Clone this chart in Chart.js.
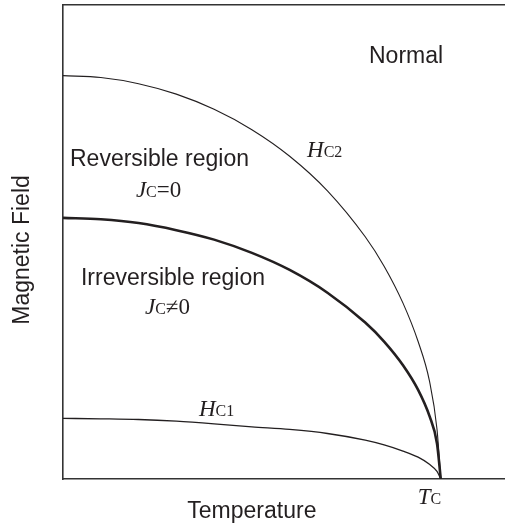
<!DOCTYPE html>
<html>
<head>
<meta charset="utf-8">
<script src="https://cdn.jsdelivr.net/npm/chart.js@4"></script>
<style>
  html, body { margin: 0; padding: 0; background: #fff; }
  #wrap { width: 505px; height: 528px; }
</style>
</head>
<body>
<div id="wrap"><canvas id="phaseChart" width="505" height="528"></canvas></div>
<script>
// reduced temperature T/Tc and field (arbitrary units, axis 0..100)
const tempT = [0, 0.1, 0.2, 0.3, 0.4, 0.5, 0.6, 0.7, 0.8, 0.85, 0.9, 0.94, 0.97, 0.99, 1];
const hc2H = [85.1, 84.7, 83.4, 81.2, 78.0, 73.7, 68.1, 60.8, 51.1, 44.9, 37.1, 29.0, 20.7, 10.5, 0];
const irrH = [55.1, 54.8, 54.0, 52.5, 50.5, 47.7, 44.1, 39.3, 33.0, 29.0, 24.0, 18.8, 13.3, 7.5, 0];
const hc1H = [12.8, 12.7, 12.55, 12.2, 11.65, 11.0, 10.45, 9.6, 8.2, 7.2, 5.9, 4.6, 3.1, 1.6, 0];

const xTitle = 'Temperature';
const yTitle = 'Magnetic Field';

const INK = '#231f20';
const SANS = '"Liberation Sans", Arial, Helvetica, sans-serif';
const SERIF = '"Liberation Serif", "Times New Roman", serif';

function toPoints(xs, ys) {
    return xs.map((x, i) => ({ x: x, y: ys[i] }));
}

// label runs: [text, style] where style is 'sans', 'it', 'sub', 'rm'
const fonts = {
    sans: '23px ' + SANS,
    it: 'italic 23px ' + SERIF,
    sub: '16px ' + SERIF,
    rm: '23px ' + SERIF
};

const notes = [
    { t: 0.810, h: 87.8, runs: [['Normal', 'sans']] },
    { t: 0.0185, h: 66.0, runs: [['Reversible region', 'sans']] },
    { t: 0.193, h: 59.5, runs: [['J', 'it'], ['C', 'sub'], ['=0', 'rm']] },
    { t: 0.0476, h: 40.9, runs: [['Irreversible region', 'sans']] },
    { t: 0.217, h: 34.8, runs: [['J', 'it'], ['C', 'sub'], ['\u2260', 'rm'], ['0', 'rm']] },
    { t: 0.646, h: 67.9, runs: [['H', 'it'], ['C2', 'sub']] },
    { t: 0.360, h: 13.3, runs: [['H', 'it'], ['C1', 'sub']] },
    { t: 0.939, h: -5.3, runs: [['T', 'it'], ['C', 'sub']] }
];

function drawRuns(ctx, x, y, runs) {
    let cx = x;
    runs.forEach(([text, style]) => {
        ctx.font = fonts[style];
        ctx.fillText(text, cx, y);
        cx += ctx.measureText(text).width;
    });
}

const textPlugin = {
    id: 'phaseLabels',
    afterDraw: (chart) => {
        const ctx = chart.ctx;
        const xs = chart.scales.x;
        const ys = chart.scales.y;
        ctx.save();
        ctx.fillStyle = INK;
        ctx.textAlign = 'left';
        ctx.textBaseline = 'alphabetic';
        notes.forEach(n => {
            drawRuns(ctx, xs.getPixelForValue(n.t), ys.getPixelForValue(n.h), n.runs);
        });

        // axis titles
        ctx.font = fonts.sans;
        ctx.textAlign = 'center';
        ctx.fillText(xTitle, xs.getPixelForValue(0.5), 518);
        ctx.translate(29, 250);
        ctx.rotate(-Math.PI / 2);
        ctx.fillText(yTitle, 0, 0);
        ctx.restore();
    }
};

const ctx = document.getElementById('phaseChart').getContext('2d');

new Chart(ctx, {
    type: 'scatter',
    data: {
        datasets: [{
            label: 'Hc2',
            data: toPoints(tempT, hc2H),
            borderColor: INK,
            borderWidth: 1.1
        }, {
            label: 'Irreversibility line',
            data: toPoints(tempT, irrH),
            borderColor: INK,
            borderWidth: 2.6
        }, {
            label: 'Hc1',
            data: toPoints(tempT, hc1H),
            borderColor: INK,
            borderWidth: 1.3
        }]
    },
    options: {
        responsive: false,
        animation: false,
        showLine: true,
        elements: {
            point: { radius: 0, hoverRadius: 0 },
            line: { cubicInterpolationMode: 'monotone', fill: false }
        },
        layout: { padding: { top: 5, right: 0, bottom: 0, left: 0 } },
        scales: {
            x: {
                type: 'linear',
                position: 'bottom',
                min: 0,
                max: 1.17,
                grid: { display: false, drawTicks: false },
                ticks: { display: false },
                border: { display: true, color: '#333', width: 1.6 },
                afterFit: (scale) => { scale.height = 49; }
            },
            xTop: {
                type: 'linear',
                position: 'top',
                min: 0,
                max: 1.17,
                grid: { display: false, drawTicks: false },
                ticks: { display: false },
                border: { display: true, color: '#333', width: 1.6 },
                afterFit: (scale) => { scale.height = 0; }
            },
            y: {
                type: 'linear',
                min: 0,
                max: 100,
                grid: { display: false, drawTicks: false },
                ticks: { display: false },
                border: { display: true, color: '#333', width: 1.6 },
                afterFit: (scale) => { scale.width = 63; }
            }
        },
        plugins: {
            legend: { display: false },
            tooltip: { enabled: false }
        }
    },
    plugins: [textPlugin]
});
</script>
</body>
</html>
